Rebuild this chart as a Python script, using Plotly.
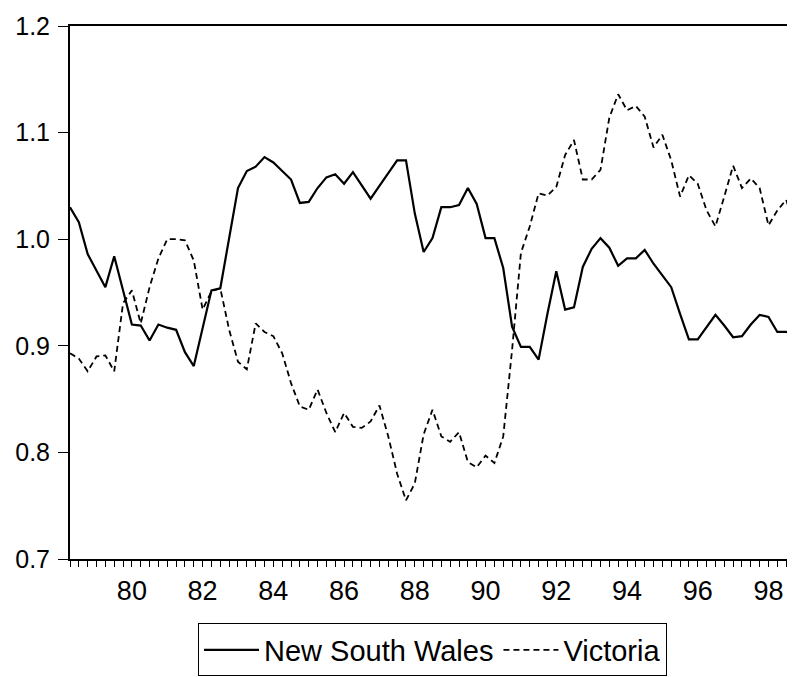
import plotly.graph_objects as go

# Quarterly observations, 1978Q2 .. 1998Q4
start_year = 1978.25
n_obs = 83
quarters = [start_year + 0.25 * i for i in range(n_obs)]

nsw = [1.030, 1.016, 0.986, 0.970, 0.955, 0.984, 0.952, 0.920, 0.919, 0.905,
       0.920, 0.917, 0.915, 0.894, 0.881, 0.916, 0.952, 0.954, 1.002, 1.048,
       1.064, 1.068, 1.077, 1.072, 1.064, 1.056, 1.034, 1.035, 1.048, 1.058,
       1.061, 1.052, 1.063, 1.051, 1.038, 1.050, 1.062, 1.074, 1.074, 1.024,
       0.988, 1.001, 1.030, 1.030, 1.032, 1.048, 1.033, 1.001, 1.001, 0.973,
       0.918, 0.899, 0.899, 0.887, 0.930, 0.970, 0.934, 0.936, 0.974, 0.991,
       1.001, 0.992, 0.975, 0.982, 0.982, 0.990, 0.977, 0.966, 0.955, 0.930,
       0.906, 0.906, 0.918, 0.929, 0.919, 0.908, 0.909, 0.920, 0.929, 0.927,
       0.913, 0.913, 0.912]

victoria = [0.893, 0.888, 0.876, 0.890, 0.891, 0.876, 0.940, 0.952, 0.921, 0.955,
            0.982, 1.000, 1.000, 0.999, 0.980, 0.934, 0.951, 0.954, 0.915, 0.885,
            0.878, 0.921, 0.913, 0.909, 0.893, 0.865, 0.843, 0.840, 0.859, 0.837,
            0.819, 0.837, 0.824, 0.823, 0.829, 0.844, 0.815, 0.780, 0.755, 0.771,
            0.817, 0.840, 0.815, 0.810, 0.819, 0.791, 0.786, 0.797, 0.790, 0.815,
            0.896, 0.987, 1.012, 1.043, 1.041, 1.049, 1.079, 1.093, 1.056, 1.056,
            1.065, 1.114, 1.136, 1.121, 1.125, 1.115, 1.086, 1.098, 1.074, 1.040,
            1.060, 1.052, 1.027, 1.012, 1.040, 1.069, 1.048, 1.057, 1.048, 1.013,
            1.027, 1.037, 1.012]

label_years = list(range(1980, 1999, 2))
label_text = [str(y)[2:] for y in label_years]
long_tick_years = list(range(1979, 1999, 2))
y_ticks = [0.7, 0.8, 0.9, 1.0, 1.1, 1.2]
y_text = ["0.7", "0.8", "0.9", "1.0", "1.1", "1.2"]

FONT = "Liberation Sans, Arial, Helvetica, sans-serif"

fig = go.Figure()
fig.add_trace(go.Scatter(x=quarters, y=nsw, mode="lines", name="New South Wales",
                         line=dict(color="black", width=2.2)))
fig.add_trace(go.Scatter(x=quarters, y=victoria, mode="lines", name="Victoria",
                         line=dict(color="black", width=1.8, dash="6px,4px")))

x_range = [quarters[0], quarters[-1]]

# page body has an 8px default margin, so the figure is sized/offset to compensate
fig.update_layout(
    width=787, height=669,
    margin=dict(l=62, r=0, t=18, b=118, autoexpand=False),
    paper_bgcolor="white", plot_bgcolor="white",
    font=dict(family=FONT, color="black"),
    showlegend=True,
    legend=dict(orientation="h", x=0.5, xanchor="center", y=-0.1706, yanchor="middle",
                bordercolor="black", borderwidth=1, font=dict(size=29, family=FONT),
                bgcolor="white", itemwidth=55, tracegroupgap=0),
    xaxis=dict(range=x_range, tickvals=label_years, ticktext=label_text,
               ticks="outside", ticklen=6, tickwidth=1, tickcolor="black",
               minor=dict(dtick=0.25, tick0=start_year, ticks="outside", ticklen=6,
                          tickwidth=1, tickcolor="black", showgrid=False),
               showline=True, linecolor="black", linewidth=2, mirror=True,
               showgrid=False, zeroline=False,
               tickfont=dict(size=27, family=FONT), ticklabelstandoff=1),
    xaxis2=dict(range=x_range, overlaying="x", anchor="y", side="bottom",
                tickvals=long_tick_years, ticks="outside", ticklen=14, tickwidth=1.5,
                tickcolor="black", showticklabels=False, showline=False,
                showgrid=False, zeroline=False),
    yaxis=dict(range=[0.7, 1.2], tickvals=y_ticks, ticktext=y_text,
               ticks="outside", ticklen=10, tickwidth=1.2, tickcolor="black",
               showline=True, linecolor="black", linewidth=2,
               showgrid=False, zeroline=False,
               tickfont=dict(size=25, family=FONT), ticklabelstandoff=3),
)

fig.write_html("out.html")
